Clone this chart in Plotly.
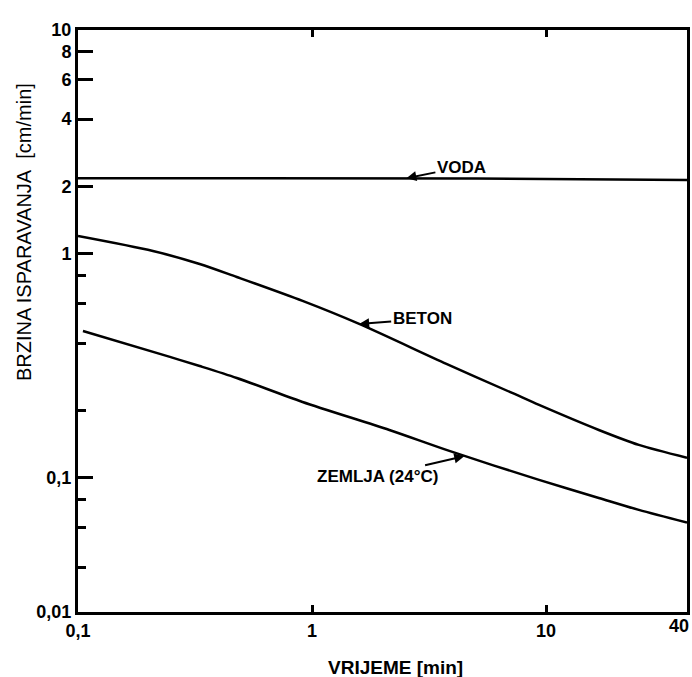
import numpy as np
import plotly.graph_objects as go

# ---- data ----
voda_x = [0.1, 5, 40]
voda_y = [2.18, 2.17, 2.14]

beton_x = [0.1, 0.209, 0.331, 0.477, 0.911, 1.59, 3.75, 7.16, 9.33, 16.8, 24.9, 40]
beton_y = [1.203, 1.031, 0.902, 0.789, 0.617, 0.487, 0.323, 0.2396, 0.2118, 0.1637, 0.1404, 0.123]

zemlja_x = [0.105, 0.247, 0.331, 0.477, 0.911, 2.14, 3.86, 9.33, 16.8, 24.9, 40]
zemlja_y = [0.453, 0.347, 0.316, 0.2795, 0.2184, 0.1637, 0.132, 0.098, 0.0814, 0.072, 0.0632]

# axis ends and ticks
x_min, x_max = 0.1, 40
y_bottom, y_top = 0.0252, 10          # the drawn axis stops here; corner is labelled "0,01"
x_tick_vals = [0.1, 1, 10, 40]
x_tick_text = ["0,1", "1", "10", ""]   # the end label "40" is placed separately
x_end_label = "40"
y_tick_vals = [y_bottom, 0.1, 1, 2, 4, 6, 8, 10]
y_tick_text = ["0,01", "0,1", "1", "2", "4", "6", "8", "10"]
y_minor_vals = [0.04, 0.06, 0.08, 0.2, 0.4, 0.6, 0.8]

labels = {
    "VODA": (2.53, 2.18, 55, -11),
    "BETON": (1.59, 0.487, 63, -5),
    "ZEMLJA (24°C)": (4.47, 0.125, -87, 20),
}

FONT = "Liberation Sans, Arial, sans-serif"

fig = go.Figure()
for xs, ys in [(voda_x, voda_y), (beton_x, beton_y), (zemlja_x, zemlja_y)]:
    fig.add_trace(go.Scatter(x=xs, y=ys, mode="lines",
                             line=dict(color="black", width=2.5, shape="spline", smoothing=0.8),
                             showlegend=False, hoverinfo="skip"))

for txt, (lx, ly, ax, ay) in labels.items():
    fig.add_annotation(x=np.log10(lx), y=np.log10(ly), xref="x", yref="y",
                       text=txt, showarrow=True, ax=ax, ay=ay,
                       arrowhead=2, arrowsize=1, arrowwidth=2, arrowcolor="black",
                       standoff=0,
                       font=dict(family=FONT, size=17, color="black", weight="bold"))

# "40" at the right end of the time axis, kept inside the page
fig.add_annotation(x=np.log10(x_max), y=0, xref="x", yref="paper",
                   text=x_end_label, showarrow=False,
                   xanchor="right", yanchor="top", xshift=4, yshift=-2,
                   font=dict(family=FONT, size=18, color="black", weight="bold"))

fig.update_xaxes(type="log", range=[np.log10(x_min) - 1e-6, np.log10(x_max) + 1e-6],
                 tickmode="array", tickvals=x_tick_vals, ticktext=x_tick_text,
                 ticks="inside", ticklen=7, tickwidth=2.5, tickcolor="black",
                 showline=True, linecolor="black", linewidth=3, mirror="ticks",
                 showgrid=False, zeroline=False, automargin=False,
                 tickfont=dict(family=FONT, size=18, color="black", weight="bold"))
fig.update_yaxes(type="log", range=[np.log10(y_bottom) - 1e-6, np.log10(y_top) + 1e-6],
                 tickmode="array", tickvals=y_tick_vals, ticktext=y_tick_text,
                 ticks="inside", ticklen=15, tickwidth=2.5, tickcolor="black",
                 minor=dict(tickmode="array", tickvals=y_minor_vals, ticks="inside",
                            ticklen=8, tickwidth=2.5, tickcolor="black", showgrid=False),
                 showline=True, linecolor="black", linewidth=3, mirror=True,
                 showgrid=False, zeroline=False, automargin=False,
                 tickfont=dict(family=FONT, size=18, color="black", weight="bold"))

# axis titles as free annotations (placed as in the reference)
fig.add_annotation(xref="paper", yref="paper",
                   x=(24 - 78) / 609, y=(612 - 232) / 582,
                   text="BRZINA ISPARAVANJA&nbsp;&nbsp;[cm/min]", textangle=-90,
                   showarrow=False, xanchor="center", yanchor="middle",
                   font=dict(family=FONT, size=20, color="black"))
fig.add_annotation(xref="paper", yref="paper",
                   x=(395 - 78) / 609, y=(612 - 667) / 582,
                   text="VRIJEME [min]", showarrow=False,
                   xanchor="center", yanchor="middle",
                   font=dict(family=FONT, size=19, color="black", weight="bold"))

fig.update_layout(width=692, height=677,
                  margin=dict(l=78, r=5, t=30, b=65),
                  paper_bgcolor="white", plot_bgcolor="white")

fig.write_html("out.html")
